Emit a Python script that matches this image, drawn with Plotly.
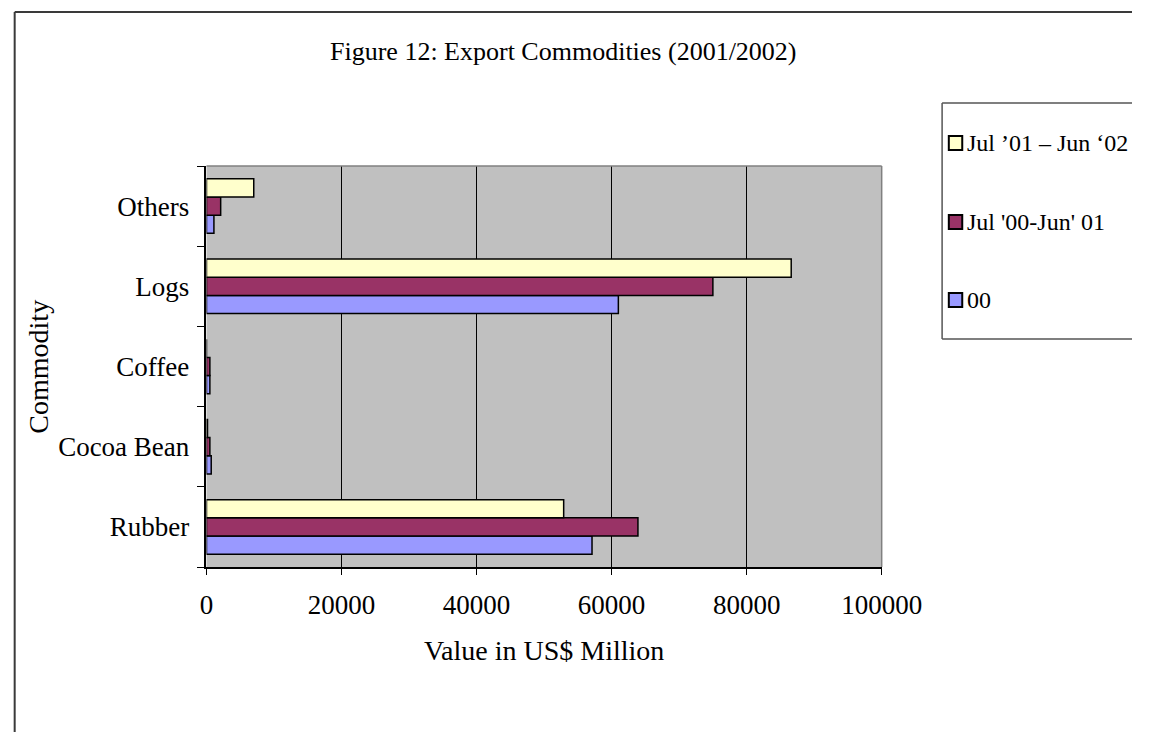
import plotly.graph_objects as go

# Export values by commodity, US$ million
commodities = ["Rubber", "Cocoa Bean", "Coffee", "Logs", "Others"]
series_names = ["00", "Jul '00-Jun' 01", "Jul \u201901 \u2013 Jun \u201802"]
values_00 = [57100, 700, 500, 61000, 1100]
values_0001 = [63900, 500, 500, 75000, 2100]
values_0102 = [52900, 150, 0, 86600, 7000]
series_colors = ["#9999FF", "#993366", "#FFFFCC"]
x_ticks = [0, 20000, 40000, 60000, 80000, 100000]

W, H = 1173, 732
FONT = "Liberation Serif, Times New Roman, serif"

# plot area in pixels
px0, px1 = 208, 912
py0, py1 = 166, 567


def fx(p):
    return p / W


def fy(p):
    return 1 - p / H


fig = go.Figure()
for name, vals, col in zip(series_names, [values_00, values_0001, values_0102], series_colors):
    fig.add_trace(go.Bar(
        y=commodities, x=vals, name=name, orientation="h",
        marker=dict(color=col, line=dict(color="black", width=1.5)),
        showlegend=False,
    ))

fig.update_layout(
    width=W, height=H, autosize=False,
    margin=dict(l=0, r=0, t=0, b=0),
    paper_bgcolor="white",
    plot_bgcolor="#C0C0C0",
    barmode="group",
    bargap=0.32,
    bargroupgap=0,
    font=dict(family=FONT, color="black", size=27),
    showlegend=False,
    xaxis=dict(
        domain=[fx(px0), fx(px1)],
        range=[0, 100000],
        tickvals=x_ticks,
        ticktext=[str(v) for v in x_ticks],
        showgrid=True, gridcolor="black", gridwidth=1,
        zeroline=False,
        showline=True, linecolor="black", linewidth=1.5,
        ticks="outside", ticklen=6, tickcolor="black",
        tickfont=dict(family=FONT, size=27),
        ticklabelstandoff=7,
        fixedrange=True,
    ),
    yaxis=dict(
        domain=[fy(py1), fy(py0)],
        categoryorder="array", categoryarray=commodities,
        range=[-0.5, 4.5],
        showgrid=False, zeroline=False,
        showline=True, linecolor="black", linewidth=1.5,
        ticks="outside", tickson="boundaries", ticklen=8, tickcolor="black",
        tickfont=dict(family=FONT, size=27),
        ticklabelstandoff=10,
        fixedrange=True,
    ),
)

frame = dict(color="#3a3a3a", width=2)
legend_frame = dict(color="#555555", width=1.5)
shapes = [
    # outer frame (left and top edges; the rest runs past the page)
    dict(type="line", xref="paper", yref="paper",
         x0=fx(8), x1=fx(8), y0=fy(12), y1=0, line=frame),
    dict(type="line", xref="paper", yref="paper",
         x0=fx(8), x1=1, y0=fy(12), y1=fy(12), line=frame),
    # top and right edges of the plot area
    dict(type="line", xref="paper", yref="paper",
         x0=fx(px0), x1=fx(px1), y0=fy(py0), y1=fy(py0),
         line=dict(color="#808080", width=1.5)),
    dict(type="line", xref="paper", yref="paper",
         x0=fx(px1), x1=fx(px1), y0=fy(py0), y1=fy(py1),
         line=dict(color="#808080", width=1.5)),
    # legend frame
    dict(type="line", xref="paper", yref="paper",
         x0=fx(975), x1=fx(975), y0=fy(103), y1=fy(339), line=legend_frame),
    dict(type="line", xref="paper", yref="paper",
         x0=fx(975), x1=1, y0=fy(103), y1=fy(103), line=legend_frame),
    dict(type="line", xref="paper", yref="paper",
         x0=fx(975), x1=1, y0=fy(339), y1=fy(339), line=legend_frame),
]

# legend entries, newest season first
legend_rows = [143, 222, 300]
for row_y, name, col in zip(legend_rows, series_names[::-1], series_colors[::-1]):
    shapes.append(dict(
        type="rect", xref="paper", yref="paper",
        x0=fx(982), x1=fx(996), y0=fy(row_y - 7), y1=fy(row_y + 7),
        fillcolor=col, line=dict(color="black", width=2),
    ))
    fig.add_annotation(
        text=name, xref="paper", yref="paper", x=fx(1000), y=fy(row_y),
        showarrow=False, font=dict(family=FONT, size=24),
        xanchor="left", yanchor="middle", borderpad=0,
    )

fig.update_layout(shapes=shapes)

fig.add_annotation(
    text="Figure 12: Export Commodities (2001/2002)",
    xref="paper", yref="paper", x=fx(580), y=fy(52),
    showarrow=False, font=dict(family=FONT, size=26),
    xanchor="center", yanchor="middle",
)
fig.add_annotation(
    text="Value in US$ Million",
    xref="paper", yref="paper", x=fx(560), y=fy(650),
    showarrow=False, font=dict(family=FONT, size=28),
    xanchor="center", yanchor="middle",
)
fig.add_annotation(
    text="Commodity",
    xref="paper", yref="paper", x=fx(33), y=fy(367),
    showarrow=False, textangle=-90, font=dict(family=FONT, size=28),
    xanchor="center", yanchor="middle",
)

fig.write_html("out.html", config={"responsive": False})
